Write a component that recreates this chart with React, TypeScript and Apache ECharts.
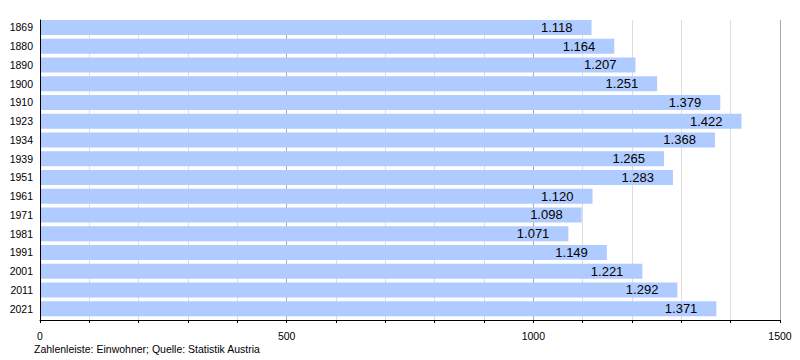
import React, { useEffect, useRef } from "react";
import * as echarts from "echarts";

const years = ["1869","1880","1890","1900","1910","1923","1934","1939","1951","1961","1971","1981","1991","2001","2011","2021"];
const population = [1118,1164,1207,1251,1379,1422,1368,1265,1283,1120,1098,1071,1149,1221,1292,1371];
const xMin = 0;
const xMax = 1500;
const footer = "Zahlenleiste: Einwohner; Quelle: Statistik Austria";

const fmt = (v: number) => {
  const s = String(Math.round(v));
  return s.replace(/\B(?=(\d{3})+(?!\d))/g, ".");
};

export default function App() {
  const ref = useRef<HTMLDivElement>(null);
  useEffect(() => {
    if (!ref.current) return;
    const chart = echarts.init(ref.current, null, { renderer: "svg" });
    const font = "'Liberation Sans', Arial, sans-serif";
    chart.setOption({
      animation: false,
      grid: [
        { left: 40, right: 20, top: 20, bottom: 40, containLabel: false },
        { left: 40, right: 20, top: 18, bottom: 42, containLabel: false },
      ],
      xAxis: [
        {
          type: "value",
          gridIndex: 0,
          min: xMin,
          max: xMax,
          interval: 100,
          axisLine: { show: true, lineStyle: { color: "#000", width: 1 } },
          axisTick: { show: true, length: 3, lineStyle: { color: "#000" } },
          axisLabel: {
            interval: 4,
            formatter: (v: number) => (v % 500 === 0 ? String(v) : ""),
            color: "#000",
            fontFamily: font,
            fontSize: 10.5,
            margin: 10,
          },
          splitLine: {
            show: true,
            lineStyle: { color: ["#aaa", "#ddd", "#ddd", "#ddd", "#ddd"], width: 1 },
          },
        },
        {
          type: "value",
          gridIndex: 1,
          min: xMin,
          max: xMax,
          show: false,
        },
      ],
      yAxis: [
        {
          type: "category",
          gridIndex: 0,
          data: years,
          inverse: true,
          z: 5,
          axisLine: { show: true, lineStyle: { color: "#000", width: 1 } },
          axisTick: { show: false },
          axisLabel: { show: false },
        },
        {
          type: "category",
          gridIndex: 1,
          data: years,
          inverse: true,
          axisLine: { show: false },
          axisTick: { show: false },
          splitLine: { show: false },
          axisLabel: { color: "#000", fontFamily: font, fontSize: 10.5, margin: 7 },
        },
      ],
      series: [
        {
          type: "bar",
          xAxisIndex: 1,
          yAxisIndex: 1,
          data: population,
          barCategoryGap: "20%",
          itemStyle: { color: "#b0cbff" },
          label: {
            show: true,
            position: "insideRight",
            distance: 19,
            formatter: (p: any) => fmt(p.value),
            color: "#000",
            fontFamily: font,
            fontSize: 13,
          },
        },
      ],
      graphic: [
        {
          type: "text",
          left: 34,
          top: 343,
          style: { text: footer, fill: "#000", font: `10.5px ${font}` },
        },
      ],
    });
    return () => chart.dispose();
  }, []);
  return <div ref={ref} style={{ width: 800, height: 360, position: "absolute", left: 0, top: 0 }} />;
}
